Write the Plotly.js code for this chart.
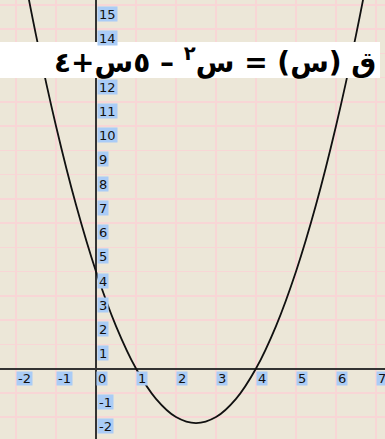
<!DOCTYPE html>
<html>
<head>
<meta charset="utf-8">
<script src="https://cdn.plot.ly/plotly-3.0.1.min.js"></script>
<style>
  html, body { margin: 0; padding: 0; background: #ECE7D8; }
  #chart { width: 385px; height: 439px; }
</style>
</head>
<body>
<div id="chart"></div>
<script>
// Sample points of the curve q(s) = s^2 - 5s + 4
const xValues = [-2, -1.5, -1, -0.5, 0, 0.5, 1, 1.5, 2, 2.5, 3, 3.5, 4, 4.5, 5, 5.5, 6, 6.5, 7];
const yValues = [18, 13.75, 10, 6.75, 4, 1.75, 0, -1.25, -2, -2.25, -2, -1.25, 0, 1.75, 4, 6.75, 10, 13.75, 18];

// Tick labels along each axis (13 sits under the formula banner)
const xTickValues = [-2, -1, 0, 1, 2, 3, 4, 5, 6, 7];
const xTickLabels = ['-2', '-1', '0', '1', '2', '3', '4', '5', '6', '7'];
const yTickValues = [-2, -1, 1, 2, 3, 4, 5, 6, 7, 8, 9, 10, 11, 12, 14, 15];
const yTickLabels = ['-2', '-1', '1', '2', '3', '4', '5', '6', '7', '8', '9', '10', '11', '12', '14', '15'];

const titleText = 'ق (س) = س<sup>٢</sup> – ٥س+٤';

const labelFont = { family: 'DejaVu Sans', size: 13, color: '#111111' };
const labelBg = '#AACCF6';

const annotations = [];
xTickValues.forEach((v, i) => {
  annotations.push({
    x: v, y: 0, xref: 'x', yref: 'y',
    text: xTickLabels[i], showarrow: false,
    xanchor: 'left', yanchor: 'top', yshift: -2, xshift: 0,
    bgcolor: labelBg, borderpad: 1, height: 11,
    font: labelFont
  });
});
yTickValues.forEach((v, i) => {
  annotations.push({
    x: 0, y: v, xref: 'x', yref: 'y',
    text: yTickLabels[i], showarrow: false,
    xanchor: 'left', yanchor: 'top', yshift: -1, xshift: 1,
    bgcolor: labelBg, borderpad: 1, height: 12,
    font: labelFont
  });
});
// Formula text, right-aligned inside the white banner
annotations.push({
  x: 378 / 385, y: 1 - 61 / 439, xref: 'paper', yref: 'paper',
  xanchor: 'right', yanchor: 'middle',
  text: '<b>' + titleText + '</b>', showarrow: false,
  font: { family: 'DejaVu Sans', size: 28, color: '#000000' }
});

const shapes = [{
  type: 'rect', xref: 'paper', yref: 'paper', layer: 'above',
  x0: 0, x1: 380 / 385, y0: 1 - 78 / 439, y1: 1 - 42 / 439,
  fillcolor: '#FFFFFF', line: { width: 0 }
}];

const trace = {
  x: xValues, y: yValues, type: 'scatter', mode: 'lines',
  line: { color: '#111111', width: 1.8, shape: 'spline' },
  hoverinfo: 'skip'
};

const layout = {
  width: 385, height: 439,
  margin: { l: 0, r: 0, t: 0, b: 0 },
  paper_bgcolor: '#ECE7D8', plot_bgcolor: '#ECE7D8',
  showlegend: false,
  xaxis: {
    range: [-2.4, 7.225], dtick: 1, tick0: 0,
    showgrid: true, gridcolor: '#F8D6D6', gridwidth: 1.5,
    zeroline: true, zerolinecolor: '#333333', zerolinewidth: 2,
    showticklabels: false, ticks: '', showline: false, fixedrange: true
  },
  yaxis: {
    range: [-2.907, 15.196], dtick: 1, tick0: 0,
    showgrid: true, gridcolor: '#F8D6D6', gridwidth: 1.5,
    zeroline: true, zerolinecolor: '#333333', zerolinewidth: 2,
    showticklabels: false, ticks: '', showline: false, fixedrange: true
  },
  shapes: shapes,
  annotations: annotations
};

Plotly.newPlot('chart', [trace], layout, { displayModeBar: false, staticPlot: true });
</script>
</body>
</html>
